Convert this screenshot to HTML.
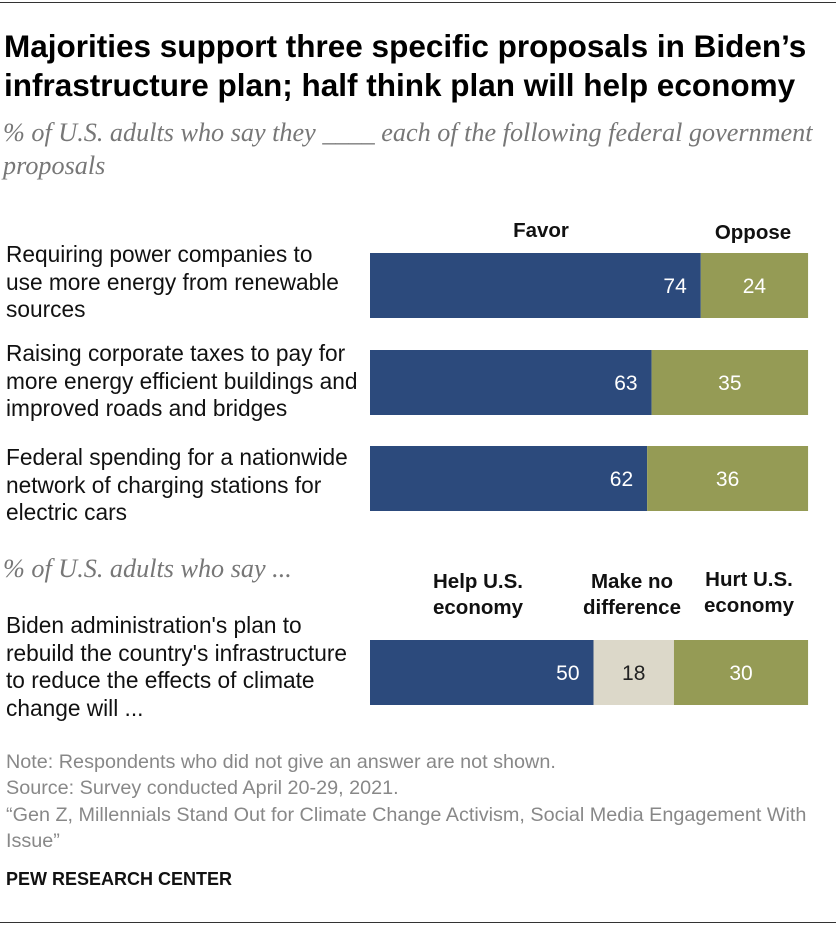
<!DOCTYPE html>
<html><head><meta charset="utf-8"><style>
body{margin:0;width:840px;height:930px;background:#fff;font-family:"Liberation Sans",sans-serif;position:relative;overflow:hidden}
.abs{position:absolute}
.title{left:4px;top:27px;font-size:31.5px;font-weight:bold;line-height:39px;color:#000;width:834px}
.sub{left:3px;font-family:"Liberation Serif",serif;font-style:italic;font-size:26.2px;color:#777;line-height:33px}
.lab{left:6px;font-size:22.7px;line-height:27.5px;color:#111;width:362px}
.hdr{font-size:20.5px;font-weight:bold;text-align:center;line-height:26px;color:#111}
.note{left:6px;font-size:19.8px;color:#888;line-height:26px}
svg text{font-family:"Liberation Sans",sans-serif;font-size:21px}
</style></head><body>
<div class="abs" style="left:0;top:2px;width:836px;height:1px;background:#333"></div>
<div class="abs title">Majorities support three specific proposals in Biden’s infrastructure plan; half think plan will help economy</div>
<div class="abs sub" style="top:116px;width:834px">% of U.S. adults who say they ____ each of the following federal government proposals</div>
<div class="abs hdr" style="left:491px;top:218px;width:100px">Favor</div>
<div class="abs hdr" style="left:703px;top:220px;width:100px">Oppose</div>
<div class="abs lab" style="top:241px;width:340px">Requiring power companies to use more energy from renewable sources</div>
<div class="abs lab" style="top:340px">Raising corporate taxes to pay for more energy efficient buildings and improved roads and bridges</div>
<div class="abs lab" style="top:444px">Federal spending for a nationwide network of charging stations for electric cars</div>
<div class="abs sub" style="top:552px">% of U.S. adults who say ...</div>
<div class="abs hdr" style="left:413px;top:569px;width:130px">Help U.S. economy</div>
<div class="abs hdr" style="left:567px;top:569px;width:130px">Make no difference</div>
<div class="abs hdr" style="left:684px;top:567px;width:130px">Hurt U.S. economy</div>
<div class="abs lab" style="top:612px;width:350px">Biden administration's plan to rebuild the country's infrastructure to reduce the effects of climate change will ...</div>
<svg class="abs" id="chart" style="left:0;top:0" width="840" height="930"></svg>
<div class="abs note" style="top:749px">Note: Respondents who did not give an answer are not shown.</div>
<div class="abs note" style="top:775px">Source: Survey conducted April 20-29, 2021.</div>
<div class="abs note" style="top:802px;width:820px">“Gen Z, Millennials Stand Out for Climate Change Activism, Social Media Engagement With Issue”</div>
<div class="abs" style="left:6px;top:869px;font-size:18px;font-weight:bold;color:#111">PEW RESEARCH CENTER</div>
<div class="abs" style="left:0;top:922px;width:836px;height:1px;background:#333"></div>
<script>
const categories=["renewable","corporate-taxes","charging","biden-plan"];
const favorValues=[74,63,62,50];
const neutralValues=[null,null,null,18];
const opposeValues=[24,35,36,30];
const X0=370,SCALE=4.47;
const rowTops=[253,350,446,640];
const x=v=>X0+v*SCALE;
const svg=document.getElementById('chart');
const NS='http://www.w3.org/2000/svg';
function seg(i,start,val,color,tcol,name){
  const r=document.createElementNS(NS,'rect');
  r.setAttribute('x',x(start));r.setAttribute('y',rowTops[i]);
  r.setAttribute('width',val*SCALE);r.setAttribute('height',65);r.setAttribute('fill',color);
  
  
  svg.appendChild(r);
  const t=document.createElementNS(NS,'text');
  const right=name==='favor';
  t.setAttribute('x',right?x(start+val)-14:x(start)+val*SCALE/2);
  t.setAttribute('y',rowTops[i]+40);
  t.setAttribute('text-anchor',right?'end':'middle');
  t.setAttribute('fill',tcol);t.textContent=val;
  
  
  svg.appendChild(t);
}
categories.forEach((c,i)=>{
  seg(i,0,favorValues[i],'#2c4a7c','#fff','favor');
  let s=favorValues[i];
  if(neutralValues[i]!=null){seg(i,s,neutralValues[i],'#dcd8c9','#222','neutral');s+=neutralValues[i];}
  seg(i,s,opposeValues[i],'#959b55','#fff','oppose');
});
</script>
</body></html>
